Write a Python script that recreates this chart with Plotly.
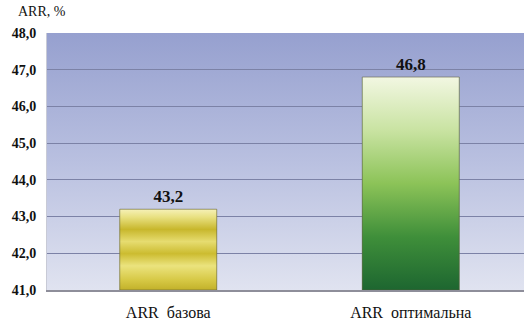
import base64
import plotly.graph_objects as go

categories = ["ARR  базова", "ARR  оптимальна"]
values = [43.2, 46.8]
y_ticks = [41, 42, 43, 44, 45, 46, 47, 48]

Y_MIN, Y_MAX = 41, 48
BAR_W = 0.40
FONT = "Liberation Serif"

bar_scales = [
    [[0.0, "#c2b12a"], [0.12, "#d6c844"], [0.3, "#ebe37e"], [0.45, "#ccbc30"],
     [0.6, "#e6dc70"], [0.75, "#c8b72c"], [0.9, "#e8e080"], [1.0, "#f6f1b8"]],
    [[0.0, "#1d6630"], [0.25, "#3f8f3a"], [0.5, "#8cc358"], [0.75, "#c9e3a2"],
     [1.0, "#f2f7e2"]],
]

fig = go.Figure()

svg = ('<svg xmlns="http://www.w3.org/2000/svg" width="100" height="100" preserveAspectRatio="none">'
       '<defs><linearGradient id="g" x1="0" y1="0" x2="0" y2="1">'
       '<stop offset="0" stop-color="#96a0cf"/><stop offset="0.5" stop-color="#b9c0e0"/>'
       '<stop offset="1" stop-color="#e0e3f0"/>'
       '</linearGradient></defs><rect width="100" height="100" fill="url(#g)"/></svg>')
src = "data:image/svg+xml;base64," + base64.b64encode(svg.encode()).decode()
fig.add_layout_image(source=src, xref="paper", yref="paper", x=0, y=1, sizex=1, sizey=1,
                     sizing="stretch", layer="below", xanchor="left", yanchor="top")

xs = list(range(len(categories)))
fig.add_trace(go.Bar(
    x=xs, y=values, width=BAR_W,
    marker=dict(color=["#d4c640", "#5fa048"], line=dict(width=0)),
    text=[f"{v:.1f}".replace(".", ",") for v in values],
    textposition="outside", cliponaxis=False,
    textfont=dict(family=FONT, size=17, color="#111111", weight="bold"),
    hoverinfo="skip", showlegend=False,
))

for i, (v, cs) in enumerate(zip(values, bar_scales)):
    x0, x1 = i - BAR_W / 2, i + BAR_W / 2
    fig.add_trace(go.Scatter(
        x=[x0, x1, x1, x0, x0], y=[Y_MIN, Y_MIN, v, v, Y_MIN],
        mode="lines", fill="toself",
        line=dict(color="rgba(90,90,60,0.55)", width=1),
        fillgradient=dict(type="vertical", colorscale=cs),
        hoverinfo="skip", showlegend=False,
    ))

fig.update_layout(
    width=524, height=322,
    margin=dict(l=47, r=0, t=33, b=32),
    paper_bgcolor="white", plot_bgcolor="rgba(0,0,0,0)",
    separators=", ",
    font=dict(family=FONT, color="#111111"),
    annotations=[dict(text="ARR, %", xref="paper", yref="paper", x=-0.065, y=1.0,
                      yshift=12, xanchor="left", yanchor="bottom", showarrow=False,
                      font=dict(family=FONT, size=14, color="#111111"))],
    xaxis=dict(range=[-0.5, 1.467], tickvals=xs, ticktext=categories,
               tickfont=dict(family=FONT, size=16, color="#111111"),
               showgrid=False, showline=True, linecolor="#8e8e9a", linewidth=2,
               ticks="", ticklabelstandoff=7, fixedrange=True),
    yaxis=dict(range=[Y_MIN, Y_MAX], tickvals=y_ticks, tickformat=".1f",
               tickfont=dict(family=FONT, size=14, color="#111111", weight="bold"),
               showgrid=True, gridcolor="#7c82a6", gridwidth=1,
               showline=True, linecolor="#c8cad6", linewidth=1,
               ticks="", ticklabelstandoff=7, fixedrange=True),
)

fig.write_html("out.html")
